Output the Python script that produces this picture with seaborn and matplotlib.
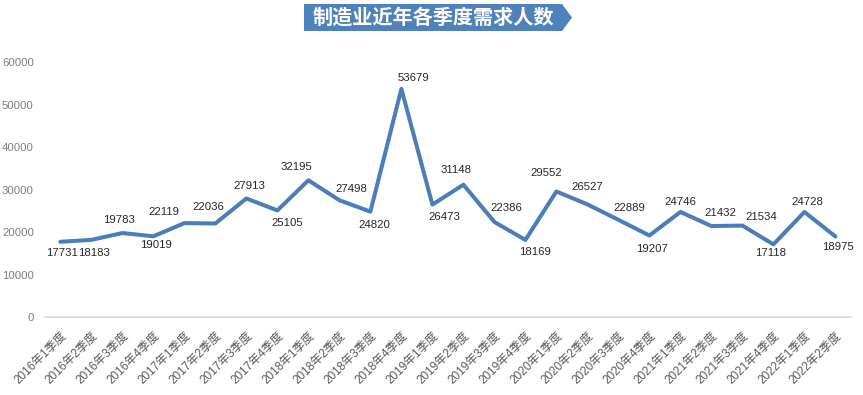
import numpy as np
import pandas as pd
import matplotlib
matplotlib.use("Agg")
import matplotlib.pyplot as plt
from matplotlib.patches import Polygon
import seaborn as sns

# quarters and demand values
quarters = [f"{y}年{q}季度" for y in range(2016, 2023) for q in range(1, 5)][:26]
values = [17731, 18183, 19783, 19019, 22119, 22036, 27913, 25105, 32195, 27498,
          24820, 53679, 26473, 31148, 22386, 18169, 29552, 26527, 22889, 19207,
          24746, 21432, 21534, 17118, 24728, 18975]
title = "制造业近年各季度需求人数"

# where each data label sits relative to its point (pixels, right / down)
label_dx = [2, 3, -3, 3, -21, -7, 3, 10, -12, 12, 4, 12, 12, -7, 12, 10,
            -10, 0, 11, 3, 0, 9, 19, -3, 3, 3]
label_dy = [11, 13, -13, 9, -11, -16, -12, 13, -13, -11, 13, -11, 12, -15, -14, 12,
            -19, -17, -12, 13, -10, -13, -9, 9, -10, 11]

sns.set_style("white")
plt.rcParams['font.family'] = ['Noto Sans CJK SC', 'DejaVu Sans']
num_font = ['Liberation Sans', 'DejaVu Sans']

df = pd.DataFrame({"idx": range(len(quarters)), "quarter": quarters, "value": values})

fig = plt.figure(figsize=(8.63, 3.95), dpi=100)
ax = fig.add_axes([0.052, 0.197, 0.934, 0.646])
sns.lineplot(data=df, x="idx", y="value", ax=ax, color="#4a7ebb", linewidth=2.9)

for i, v in enumerate(values):
    ax.annotate(f"{v}", (i, v), xytext=(label_dx[i], -label_dy[i]), textcoords="offset pixels",
                ha="center", va="center", fontsize=8.2, color="#262626", family=num_font)

ax.set_xlim(-0.5, len(quarters) - 0.5)
ax.set_ylim(0, 60000)
ax.set_yticks(range(0, 60001, 10000))
ax.set_yticklabels([str(t) for t in range(0, 60001, 10000)], fontsize=8.2, color="#7f7f7f",
                   family=num_font)
ax.set_xticks(range(len(quarters)))
ax.set_xticklabels(quarters, rotation=45, ha="right", rotation_mode="anchor",
                   fontsize=8.5, color="#595959", family=['Liberation Sans', 'Noto Sans CJK SC'])
ax.tick_params(axis="y", length=0, pad=8)
ax.tick_params(axis="x", length=0, pad=9)
ax.set_xlabel("")
ax.set_ylabel("")
for s in ["top", "right", "left"]:
    ax.spines[s].set_visible(False)
ax.spines["bottom"].set_color("#d9d9d9")
ax.spines["bottom"].set_linewidth(1.2)

# title banner (pentagon shape)
W, H = 863, 395
pts = [(304, 4), (562, 4), (572, 17.5), (562, 31), (304, 31)]
banner = Polygon([(x / W, 1 - y / H) for x, y in pts], closed=True,
                 transform=fig.transFigure, facecolor="#4f81bd", edgecolor="none")
fig.patches.append(banner)
fig.text(433 / W, 1 - 17.5 / H, title, ha="center", va="center", color="white",
         fontsize=14.5, fontweight="bold")

fig.savefig("out.png", dpi=100)
